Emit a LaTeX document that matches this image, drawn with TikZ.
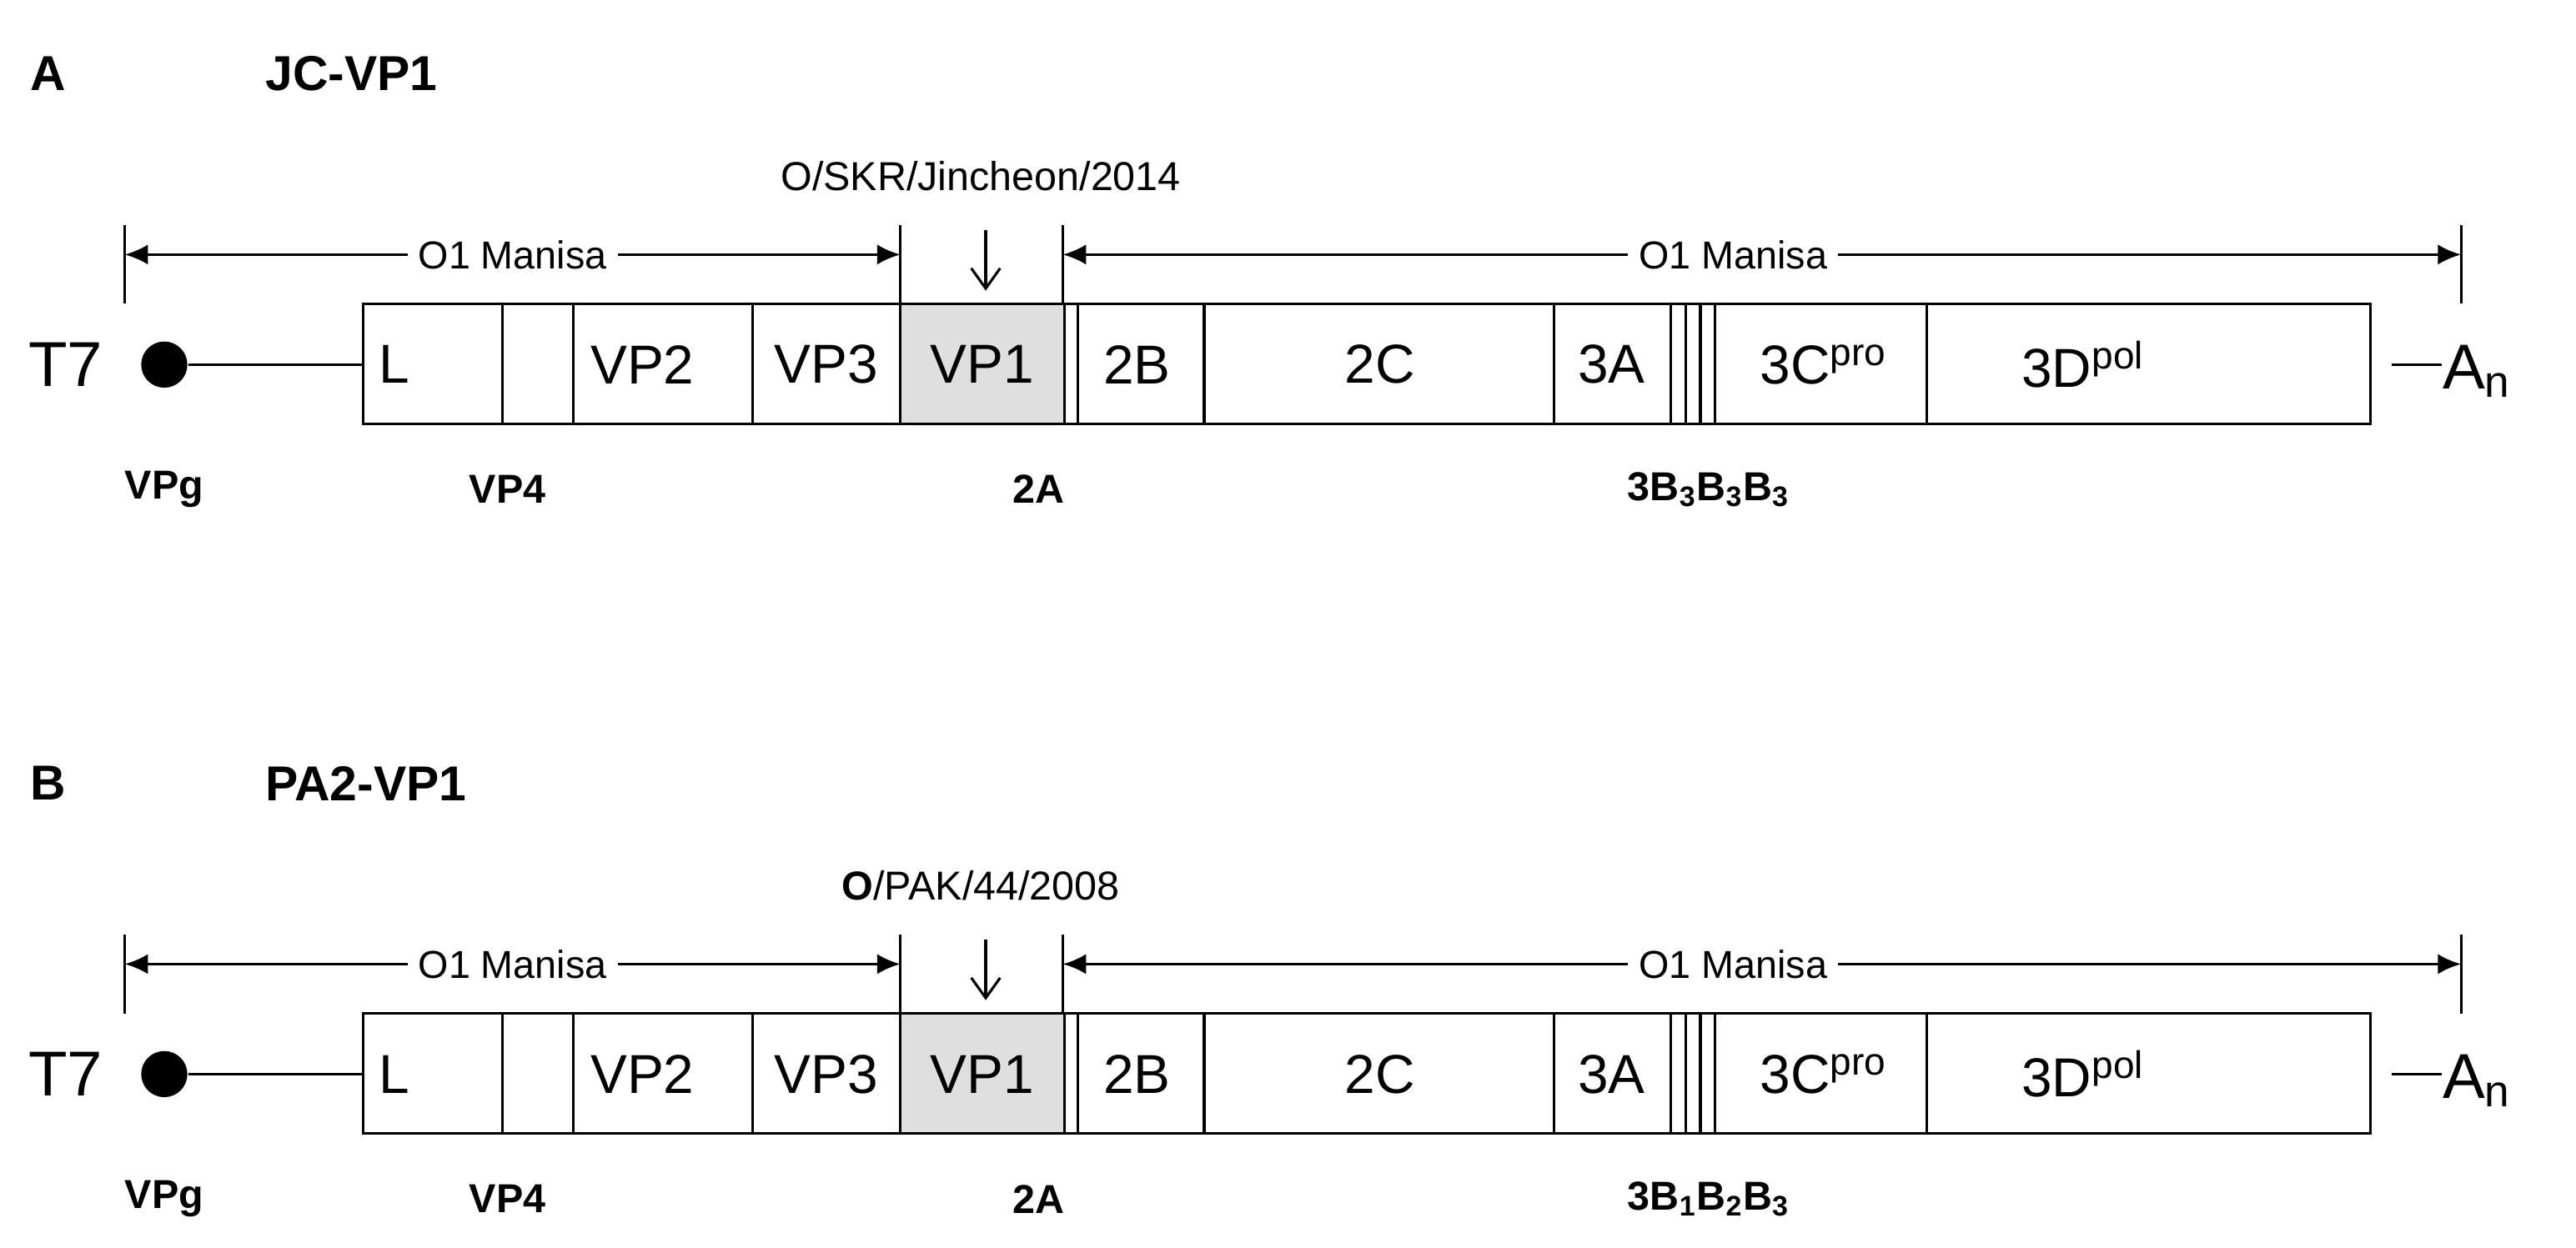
\documentclass[tikz,border=0pt]{standalone}
\usepackage{fontspec}
\setmainfont{Liberation Sans}
\usetikzlibrary{arrows.meta}
\newcommand\genomepanel[6]{%
\begin{scope}[yshift=#2]
\node[font=\bfseries\fontsize{17}{20}\selectfont,anchor=west] (#1let) at (12,-45) {#3};
\node[font=\bfseries\fontsize{17}{20}\selectfont,anchor=west] (#1tit) at (155,-45) {#4};
\node[font=\fontsize{14}{16}\selectfont] (#1str) at (597,-107) {#5};
\fill[gray!25] (548,-185) rectangle (647,-258);
\draw[thick] (221,-185) rectangle (1443,-258);
\foreach \x in {306,349,458,548,648,656,733,946,1017,1026,1035,1044,1173} \draw (\x,-185) -- (\x,-258);
\foreach \x/\t in {240/L,391/VP2,503/VP3,598/VP1,692/2B,840/2C,981/3A}
  \node[seg] at (\x,-222) {\t};
\node[seg] at (1110,-222) {3C\textsuperscript{pro}};
\node[seg] at (1268,-222) {3D\textsuperscript{pol}};
\node[font=\fontsize{22}{24}\selectfont] (#1t7) at (40,-222) {T7};
\node[circle,fill=black,minimum size=16pt,inner sep=0] (#1dot) at (100,-222) {};
\coordinate (#1bl) at (221,-222);
\draw[thick] (#1dot) -- (#1bl);
\node[font=\fontsize{22}{24}\selectfont,anchor=west,inner sep=0] (#1an) at (1486,-226) {A\textsubscript{n}};
\coordinate (#1br) at (1456,-222);
\draw[thick] (#1br) -- (#1an.west|-#1br);
\foreach \x/\t in {100/VPg,309/VP4,632/2A}
  \node[lab] at (\x,-298) {\t};
\node[lab] at (1040,-298) {#6};
\foreach \x in {76,548,647,1498} \draw (\x,-137) -- (\x,-185);
\node[font=\fontsize{13.5}{15}\selectfont] (#1m1) at (312,-155) {O1 Manisa};
\node[font=\fontsize{13.5}{15}\selectfont] (#1m2) at (1055,-155) {O1 Manisa};
\coordinate (#1a) at (76,-155); \coordinate (#1b) at (548,-155);
\coordinate (#1c) at (647,-155); \coordinate (#1d) at (1498,-155);
\draw[-{Latex[length=8,width=7]}] (#1m1.west) -- (#1a);
\draw[-{Latex[length=8,width=7]}] (#1m1.east) -- (#1b);
\draw[-{Latex[length=8,width=7]}] (#1m2.west) -- (#1c);
\draw[-{Latex[length=8,width=7]}] (#1m2.east) -- (#1d);
\coordinate (#1v1) at (600,-140); \coordinate (#1v2) at (600,-177);
\draw[-{Straight Barb[length=7,width=10]}] (#1v1) -- (#1v2);
\end{scope}}
\begin{document}
\begin{tikzpicture}[x=0.02cm,y=0.02cm,line width=0.9pt,
  seg/.style={font=\fontsize{19}{22}\selectfont},
  lab/.style={font=\bfseries\fontsize{14}{16}\selectfont}]
\useasboundingbox (0,0) rectangle (1568,-759.4);
\genomepanel{A}{0}{A}{JC-VP1}{O/SKR/Jincheon/2014}{3B\textsubscript{3}B\textsubscript{3}B\textsubscript{3}}
\genomepanel{B}{-432*0.02cm}{B}{PA2-VP1}{\textbf{O}/PAK/44/2008}{3B\textsubscript{1}B\textsubscript{2}B\textsubscript{3}}
\end{tikzpicture}
\end{document}
